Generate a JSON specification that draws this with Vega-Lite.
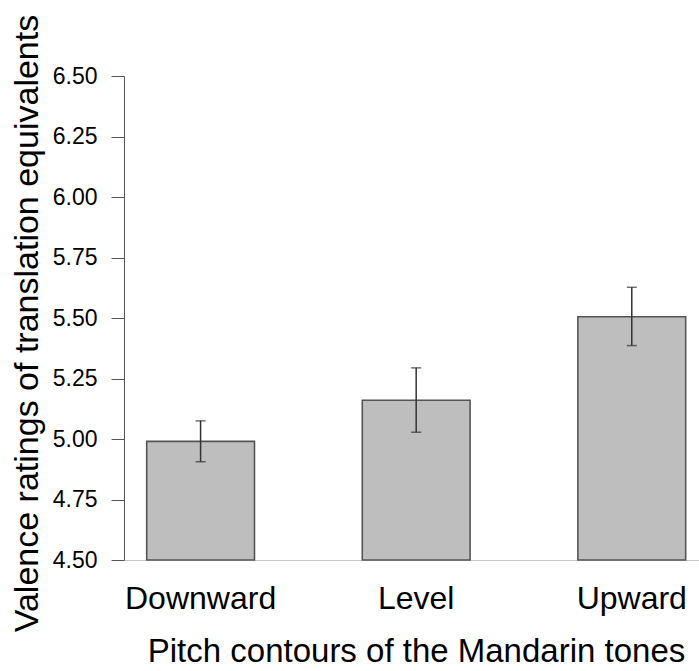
{
  "$schema": "https://vega.github.io/schema/vega-lite/v6.json",
  "width": 575,
  "height": 484,
  "autosize": {"type": "none"},
  "padding": {"left": 124, "top": 76, "right": 0, "bottom": 111},
  "config": {"font": "Liberation Sans", "view": {"stroke": null}},
  "data": {
    "values": [
      {"contour": "Downward", "mean": 4.99, "lo": 4.906, "hi": 5.075},
      {"contour": "Level", "mean": 5.16, "lo": 5.028, "hi": 5.294},
      {"contour": "Upward", "mean": 5.505, "lo": 5.386, "hi": 5.627}
    ]
  },
  "encoding": {
    "x": {
      "field": "contour",
      "type": "nominal",
      "sort": ["Downward", "Level", "Upward"],
      "scale": {"paddingInner": 0.5, "paddingOuter": 0.0835, "align": 0.63},
      "axis": {
        "title": "Pitch contours of the Mandarin tones",
        "labelAngle": 0,
        "labelFontSize": 32,
        "labelColor": "#000",
        "labelBaseline": "alphabetic",
        "labelPadding": 48,
        "ticks": false,
        "tickSize": 0,
        "domainColor": "#c8c8c8",
        "domainWidth": 1,
        "titleFontSize": 33,
        "titleFontWeight": "normal",
        "titleColor": "#000",
        "titleBaseline": "alphabetic",
        "titleAlign": "center",
        "titleX": 292,
        "titleY": 101
      }
    },
    "y": {
      "field": "mean",
      "type": "quantitative",
      "title": "Valence ratings of translation equivalents",
      "scale": {"domain": [4.5, 6.5], "nice": false, "zero": false},
      "axis": {
        "title": "Valence ratings of translation equivalents",
        "values": [4.5, 4.75, 5, 5.25, 5.5, 5.75, 6, 6.25, 6.5],
        "format": ".2f",
        "tickSize": 13,
        "tickColor": "#555",
        "domainColor": "#555",
        "tickWidth": 1,
        "domainWidth": 1,
        "labelFontSize": 23,
        "labelColor": "#000",
        "labelPadding": 14,
        "grid": false,
        "titleFontSize": 34,
        "titleFontWeight": "normal",
        "titleColor": "#000",
        "titleAngle": -90,
        "titleBaseline": "alphabetic",
        "titleAlign": "center",
        "titleX": -87,
        "titleY": 247
      }
    }
  },
  "layer": [
    {
      "mark": {"type": "bar", "fill": "#bebebe", "stroke": "#555555", "strokeWidth": 1.6},
      "encoding": {
        "y2": {"datum": 4.5}
      }
    },
    {
      "mark": {"type": "rule", "color": "#333", "strokeWidth": 1.5},
      "encoding": {
        "y": {"field": "lo", "type": "quantitative", "title": "Valence ratings of translation equivalents"},
        "y2": {"field": "hi"}
      }
    },
    {
      "mark": {"type": "tick", "color": "#333", "thickness": 1.5, "size": 10},
      "encoding": {
        "y": {"field": "lo", "type": "quantitative", "title": "Valence ratings of translation equivalents"}
      }
    },
    {
      "mark": {"type": "tick", "color": "#333", "thickness": 1.5, "size": 10},
      "encoding": {
        "y": {"field": "hi", "type": "quantitative", "title": "Valence ratings of translation equivalents"}
      }
    }
  ]
}
